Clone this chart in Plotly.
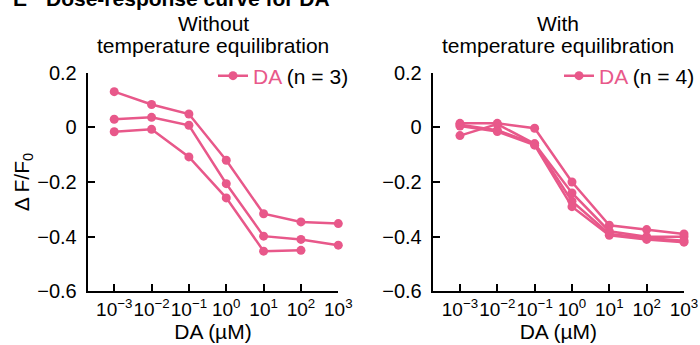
import plotly.graph_objects as go

PINK = "#E8588A"
FONT = "Arial, Liberation Sans, sans-serif"

# DA concentrations (µM)
conc = [1e-3, 1e-2, 1e-1, 1e0, 1e1, 1e2, 1e3]

# Without temperature equilibration (n = 3)
without_1 = [0.131, 0.084, 0.049, -0.120, -0.316, -0.346, -0.352]
without_2 = [0.030, 0.037, 0.008, -0.206, -0.398, -0.410, -0.431]
without_3 = [-0.016, -0.007, -0.108, -0.258, -0.453, -0.450, None]

# With temperature equilibration (n = 4)
with_1 = [0.015, 0.015, -0.003, -0.200, -0.358, -0.374, -0.390]
with_2 = [0.010, -0.010, -0.060, -0.240, -0.380, -0.400, -0.400]
with_3 = [-0.030, 0.012, -0.060, -0.270, -0.390, -0.405, -0.415]
with_4 = [0.005, -0.015, -0.065, -0.290, -0.395, -0.410, -0.420]

x_tickvals = conc
x_ticktext = ["10<sup>−3</sup>", "10<sup>−2</sup>", "10<sup>−1</sup>", "10<sup>0</sup>",
              "10<sup>1</sup>", "10<sup>2</sup>", "10<sup>3</sup>"]
y_tickvals = [-0.6, -0.4, -0.2, 0, 0.2]
y_ticktext = ["−0.6", "−0.4", "−0.2", "0", "0.2"]

fig = go.Figure()

def add_series(ys, xaxis, yaxis, legend, name, show):
    fig.add_trace(go.Scatter(
        x=conc, y=ys, xaxis=xaxis, yaxis=yaxis, mode="lines+markers",
        line=dict(color=PINK, width=2.5), marker=dict(color=PINK, size=9),
        name=name, showlegend=show, legend=legend, cliponaxis=False,
        connectgaps=False,
    ))

name_left = f"<span style='color:{PINK}'>DA</span> (n = 3)"
name_right = f"<span style='color:{PINK}'>DA</span> (n = 4)"
for i, s in enumerate([without_1, without_2, without_3]):
    add_series(s, "x", "y", "legend", name_left, i == 0)
for i, s in enumerate([with_1, with_2, with_3, with_4]):
    add_series(s, "x2", "y2", "legend2", name_right, i == 0)

W, H = 700, 345
def px_x(p): return p / W
def px_y(p): return 1 - p / H

xaxis_common = dict(
    type="log", tickvals=x_tickvals, ticktext=x_ticktext, ticks="inside", ticklen=7,
    tickwidth=2, tickcolor="black", showline=True, linecolor="black", linewidth=2,
    showgrid=False, zeroline=False, tickangle=0, automargin=False,
    tickfont=dict(size=19, color="black", family=FONT),
    title=dict(text="DA (µM)", font=dict(size=21, color="black", family=FONT), standoff=5),
)
yaxis_common = dict(
    range=[-0.6, 0.2], tickvals=y_tickvals, ticktext=y_ticktext, ticks="inside", ticklen=7,
    tickwidth=2, tickcolor="black", showline=True, linecolor="black", linewidth=2,
    showgrid=False, zeroline=False, automargin=False,
    tickfont=dict(size=20, color="black", family=FONT),
    ticklabelstandoff=5,
)

fig.update_layout(
    width=W, height=H, margin=dict(l=0, r=0, t=0, b=0, autoexpand=False),
    paper_bgcolor="white", plot_bgcolor="white",
    font=dict(family=FONT, color="black"),
    xaxis=dict(domain=[px_x(87.7), px_x(338.3)], range=[-3.71, 3], anchor="y", **xaxis_common),
    yaxis=dict(domain=[px_y(291.3), px_y(72.8)], anchor="x",
               title=dict(text="Δ F/F<sub>0</sub>", font=dict(size=21, color="black", family=FONT), standoff=2),
               **yaxis_common),
    xaxis2=dict(domain=[px_x(432.7), px_x(684)], range=[-3.73, 3], anchor="y2", **xaxis_common),
    yaxis2=dict(domain=[px_y(291.3), px_y(72.8)], anchor="x2", **yaxis_common),
    legend=dict(x=px_x(354), y=px_y(76), xanchor="right", yanchor="middle",
                bgcolor="rgba(0,0,0,0)", font=dict(size=21, color="black", family=FONT),
                itemwidth=30, tracegroupgap=0),
    legend2=dict(x=px_x(700), y=px_y(76), xanchor="right", yanchor="middle",
                 bgcolor="rgba(0,0,0,0)", font=dict(size=21, color="black", family=FONT),
                 itemwidth=30, tracegroupgap=0),
    showlegend=True,
)

ann_font = dict(size=21, color="black", family=FONT)
annotations = [
    dict(text="<b>E</b>", x=px_x(11), y=px_y(-1.0), xanchor="left", yanchor="middle"),
    dict(text="<b>Dose-response curve for DA</b>", x=px_x(44), y=px_y(-1.0), xanchor="left", yanchor="middle"),
    dict(text="Without", x=px_x(213), y=px_y(23.7), xanchor="center", yanchor="middle"),
    dict(text="temperature equilibration", x=px_x(213), y=px_y(46), xanchor="center", yanchor="middle"),
    dict(text="With", x=px_x(558), y=px_y(23.7), xanchor="center", yanchor="middle"),
    dict(text="temperature equilibration", x=px_x(558), y=px_y(46), xanchor="center", yanchor="middle"),
]
for a in annotations:
    fig.add_annotation(xref="paper", yref="paper", showarrow=False, font=ann_font, **a)

fig.write_html("out.html")
